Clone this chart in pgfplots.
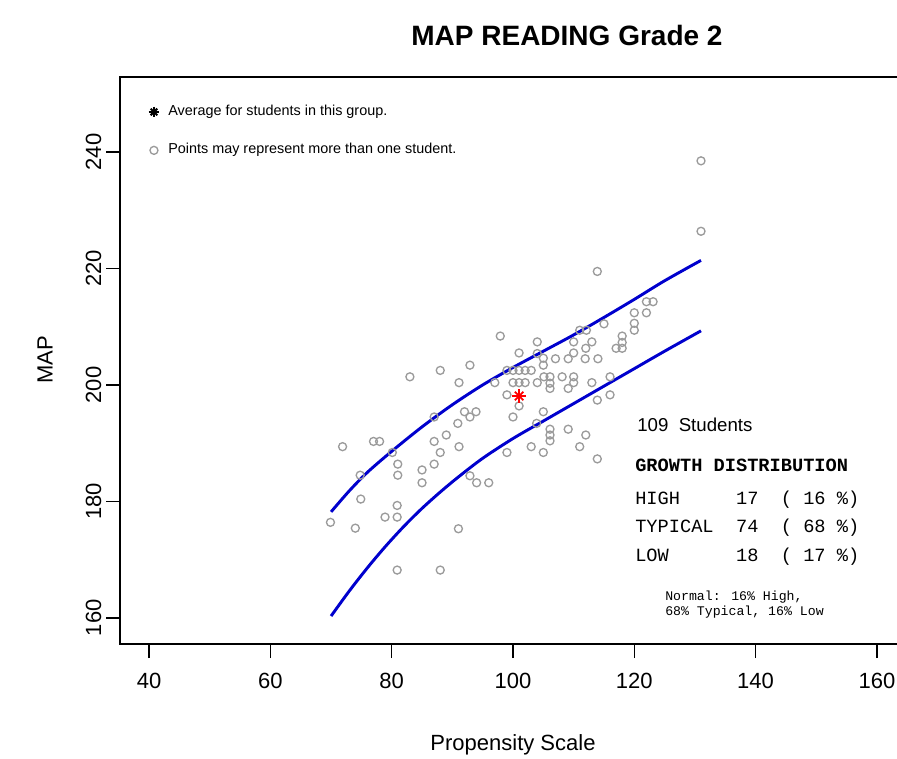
\documentclass[border=0pt]{standalone}
\usepackage{pgfplots}
\pgfplotsset{compat=1.18}
\usepackage{pgfplotstable}
\usepackage{fontspec}
\setmainfont{Liberation Sans}
\newfontfamily\mono{Liberation Mono}
\definecolor{ptgray}{RGB}{155,155,155}
\definecolor{curveblue}{RGB}{0,0,205}

\pgfplotstableread{
x y
97.9 208.4
88.0 202.5
92.9 203.4
83.0 201.4
91.1 200.4
97.0 200.4
104.0 207.4
101.0 205.5
99 202.5
100 202.5
101 202.5
102 202.5
103 202.5
100 200.4
101 200.4
102 200.4
99 198.3
101 196.4
100 194.5
104 200.4
105 204.6
105 203.4
107 204.5
109.1 204.5
110 207.4
112 206.3
113 207.4
111 209.4
112.1 209.4
110 205.5
111.9 204.5
114 204.5
105.1 201.4
106.1 201.4
106.1 200.3
106.1 199.4
108.1 201.4
110 201.4
110 200.4
109.1 199.4
113 200.4
113.9 197.4
105 195.4
103.9 193.4
106.1 192.4
106.1 191.4
106.1 190.4
109.1 192.4
112 191.4
111 189.4
103 189.4
105 188.4
99 188.4
113.9 187.3
91.1 189.4
92 195.4
93.9 195.4
92.9 194.5
87 194.5
90.9 193.4
89 191.4
87 190.3
71.9 189.4
77 190.3
78 190.3
80.1 188.4
88 188.4
87 186.4
81 186.4
85 185.4
74.8 184.5
81 184.5
85 183.2
92.9 184.4
94 183.2
96 183.2
74.9 180.4
69.9 176.4
74 175.4
78.9 177.3
80.9 177.3
80.9 179.3
91 175.3
80.9 168.2
88 168.2
131 238.5
131 226.4
113.9 219.5
122 214.3
123.1 214.3
120 212.4
122 212.4
115 210.5
120 210.6
120 209.4
118 208.4
118 207.3
118 206.3
117 206.3
104 205.4
116 201.4
116 198.3
}\scatterpts

\pgfplotstableread{
x y
70 178.2
73 181.8
76 185.0
80 188.6
85 192.8
90 196.6
95 200.0
100 203.0
105 205.8
110 208.6
115 211.6
120 214.7
125 217.9
131 221.4
}\uppercurve

\pgfplotstableread{
x y
70 160.3
73 164.6
76 168.6
79 172.3
82 175.7
85 178.8
88 181.6
91 184.2
95 187.4
100 190.8
105 193.8
110 196.8
115 199.8
120 202.8
125 205.8
131 209.3
}\lowercurve

\begin{document}
\begin{tikzpicture}
\path[use as bounding box] (0,0) rectangle (672.75pt,-568.5pt);
\begin{axis}[
  at={(90pt,-483pt)}, anchor=south west,
  scale only axis, width=589.5pt, height=425.25pt,
  xmin=35.2, xmax=164.8, ymin=155.5, ymax=252.9,
  xtick={40,60,...,160}, ytick={160,180,...,240},
  xtick pos=bottom, ytick pos=left,
  tick align=outside, major tick length=10.5pt,
  axis line style={line width=1.5pt},
  every tick/.style={black, line width=1.1pt},
  tick label style={font=\fontsize{16.5}{18}\selectfont},
  /pgf/number format/assume math mode=true,
  yticklabel style={rotate=90, anchor=south},
  xticklabel style={yshift=-8pt},
  clip=false,
]
\addplot[only marks, mark=o, mark size=3pt, draw=ptgray, mark options={line width=1pt}] table {\scatterpts};
\addplot[curveblue, line width=2.2pt, smooth] table {\uppercurve};
\addplot[curveblue, line width=2.2pt, smooth] table {\lowercurve};
\addplot[only marks, mark=+, mark size=5pt, red, mark options={line width=1.3pt}] coordinates {(101,198.1)};
\addplot[only marks, mark=x, mark size=4.5pt, red, mark options={line width=1.3pt}] coordinates {(101,198.1)};
\addplot[only marks, mark=+, mark size=4pt, black, mark options={line width=1.5pt}] coordinates {(40.8,246.9)};
\addplot[only marks, mark=x, mark size=3.5pt, black, mark options={line width=1.5pt}] coordinates {(40.8,246.9)};
\addplot[only marks, mark=o, mark size=3pt, draw=ptgray, mark options={line width=1pt}] coordinates {(40.8,240.3)};
\end{axis}
\begin{scope}[x=0.75pt, y=-0.75pt]
\node[font=\fontsize{21}{24}\bfseries] at (567,35) {MAP READING Grade 2};
\node[font=\fontsize{16.5}{18}\selectfont] at (513,745) {Propensity Scale};
\node[font=\fontsize{16.5}{18}\selectfont, rotate=90] at (45,360) {MAP};
\node[font=\fontsize{10.8}{12}\selectfont, anchor=west, inner sep=0pt] at (168,112) {Average for students in this group.};
\node[font=\fontsize{10.8}{12}\selectfont, anchor=west, inner sep=0pt] at (168,150) {Points may represent more than one student.};
\node[font=\fontsize{14}{16}\selectfont, anchor=west, inner sep=0pt] at (637,425) {109\ \ Students};
\node[font=\fontsize{14}{16}\selectfont\mono\bfseries, anchor=west, inner sep=0pt] at (635,465) {GROWTH DISTRIBUTION};
\node[font=\fontsize{14}{16}\selectfont\mono, anchor=west, inner sep=0pt] at (635,500) {HIGH\ \ \ \ \ 17\ \ (\ 16\ \%)};
\node[font=\fontsize{14}{16}\selectfont\mono, anchor=west, inner sep=0pt] at (635,528) {TYPICAL\ \ 74\ \ (\ 68\ \%)};
\node[font=\fontsize{14}{16}\selectfont\mono, anchor=west, inner sep=0pt] at (635,557) {LOW\ \ \ \ \ \ 18\ \ (\ 17\ \%)};
\node[font=\fontsize{9.9}{11}\selectfont\mono, anchor=west, inner sep=0pt] at (665,597) {Normal: 16\% High,};
\node[font=\fontsize{9.9}{11}\selectfont\mono, anchor=west, inner sep=0pt] at (665,612) {68\% Typical, 16\% Low};
\end{scope}
\end{tikzpicture}
\end{document}
